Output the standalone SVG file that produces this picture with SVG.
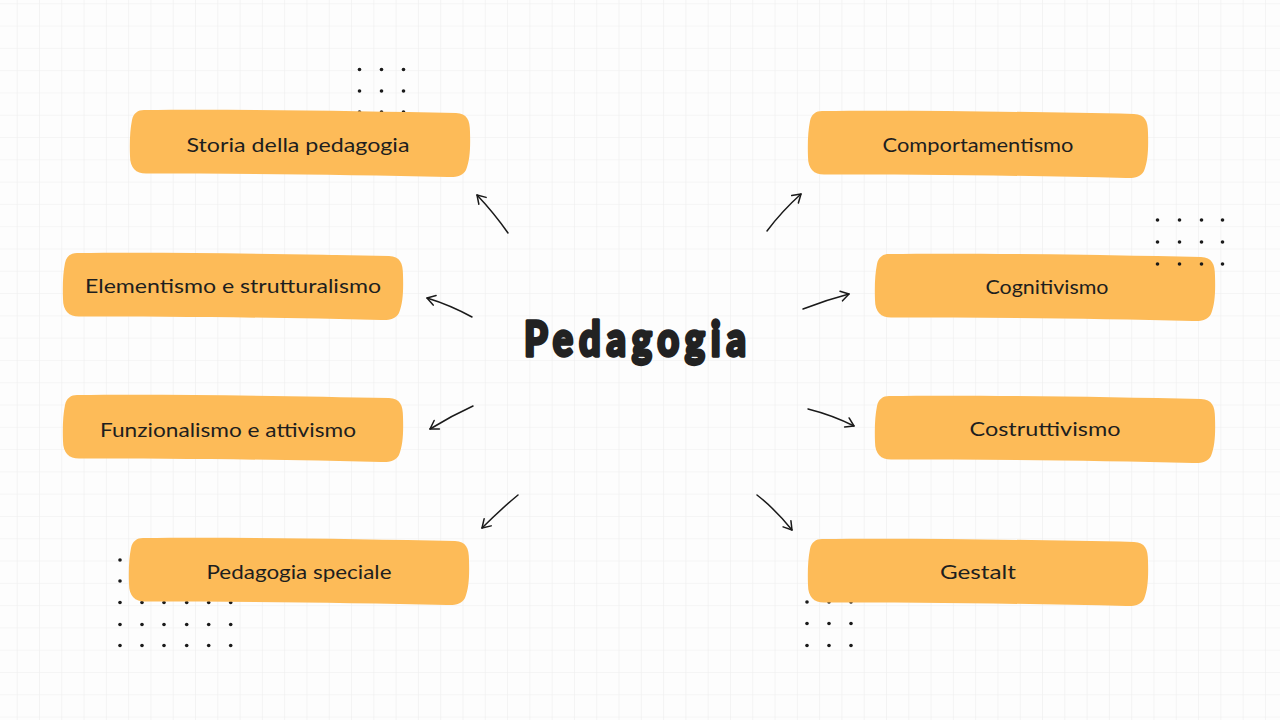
<svg xmlns="http://www.w3.org/2000/svg" xmlns:xlink="http://www.w3.org/1999/xlink" width="1280" height="720" viewBox="0 0 1280 720">
<style>
.box{fill:#fdbb58}
.lbl{font-family:Lato,"Open Sans","Liberation Sans",sans-serif;font-size:20px;fill:#1e1e1e;text-anchor:middle}
.title{font-family:Lato,"Open Sans","Liberation Sans",sans-serif;font-size:38px;font-weight:900;fill:#222;stroke:#222;stroke-width:2.6;stroke-linejoin:round;text-anchor:middle}
.arr{fill:none;stroke:#1a1a1a;stroke-width:1.5;stroke-linecap:round;marker-end:url(#ah)}
.dot{fill:#1a1a1a}
</style>
<defs>
<pattern id="grid" patternUnits="userSpaceOnUse" x="16.7" y="3.3" width="22.29" height="22.29">
<path d="M 0 0 L 0 22.29 M 0 0 L 22.29 0" fill="none" stroke="#eeeeee" stroke-width="1.2"/>
</pattern>
<marker id="ah" markerUnits="userSpaceOnUse" markerWidth="20" markerHeight="20" refX="0" refY="0" viewBox="-12 -10 16 20" orient="auto">
<path d="M -8 -5 L 0 0 L -8 5" fill="none" stroke="#1a1a1a" stroke-width="1.5" stroke-linecap="round" stroke-linejoin="round"/>
</marker>
<path id="blob" d="M 14 0 C 110 -1 230 1 326 3 C 337 3.5 340 10 340 22 C 340.5 38 340 50 336 60 C 333 66 326 67.5 318 67 C 220 64.5 110 63.5 16 63.5 C 6 63.5 0 58 0 46 C -0.5 32 0 20 2 10 C 3.5 3 8 0 14 0 Z"/>
<g id="d3">
<circle cx="0" cy="0" r="1.8"/><circle cx="22" cy="0" r="1.8"/><circle cx="44" cy="0" r="1.8"/>
</g>
</defs>
<rect width="1280" height="720" fill="#fdfdfd"/>
<rect width="1280" height="720" fill="url(#grid)"/>

<g id="dots-back" class="dot">
<use xlink:href="#d3" x="359.5" y="69.5"/>
<use xlink:href="#d3" x="359.5" y="91"/>
<use xlink:href="#d3" x="359.5" y="112"/>
<use xlink:href="#d3" x="120" y="560"/><use xlink:href="#d3" x="186.7" y="560"/>
<use xlink:href="#d3" x="120" y="581"/><use xlink:href="#d3" x="186.7" y="581"/>
<use xlink:href="#d3" x="120" y="602.5"/><use xlink:href="#d3" x="186.7" y="602.5"/>
<use xlink:href="#d3" x="120" y="624.5"/><use xlink:href="#d3" x="186.7" y="624.5"/>
<use xlink:href="#d3" x="120" y="645.5"/><use xlink:href="#d3" x="186.7" y="645.5"/>
<use xlink:href="#d3" x="807" y="602"/>
<use xlink:href="#d3" x="807" y="623.5"/>
<use xlink:href="#d3" x="807" y="645.5"/>
</g>

<g id="node-storia">
<use xlink:href="#blob" class="box" x="130" y="110"/>
<text class="lbl" x="298" y="152" textLength="223" lengthAdjust="spacingAndGlyphs">Storia della pedagogia</text>
</g>
<g id="node-elementismo">
<use xlink:href="#blob" class="box" x="63" y="253"/>
<text class="lbl" x="233" y="293" textLength="296" lengthAdjust="spacingAndGlyphs">Elementismo e strutturalismo</text>
</g>
<g id="node-funzionalismo">
<use xlink:href="#blob" class="box" x="63" y="395"/>
<text class="lbl" x="228" y="437" textLength="256" lengthAdjust="spacingAndGlyphs">Funzionalismo e attivismo</text>
</g>
<g id="node-speciale">
<use xlink:href="#blob" class="box" x="129" y="538"/>
<text class="lbl" x="299" y="579" textLength="185" lengthAdjust="spacingAndGlyphs">Pedagogia speciale</text>
</g>
<g id="node-comportamentismo">
<use xlink:href="#blob" class="box" x="808" y="111"/>
<text class="lbl" x="978" y="152" textLength="191" lengthAdjust="spacingAndGlyphs">Comportamentismo</text>
</g>
<g id="node-cognitivismo">
<use xlink:href="#blob" class="box" x="875" y="254"/>
<text class="lbl" x="1047" y="294" textLength="123" lengthAdjust="spacingAndGlyphs">Cognitivismo</text>
</g>
<g id="node-costruttivismo">
<use xlink:href="#blob" class="box" x="875" y="396"/>
<text class="lbl" x="1045" y="436" textLength="151" lengthAdjust="spacingAndGlyphs">Costruttivismo</text>
</g>
<g id="node-gestalt">
<use xlink:href="#blob" class="box" x="808" y="539"/>
<text class="lbl" x="978" y="579" textLength="76" lengthAdjust="spacingAndGlyphs">Gestalt</text>
</g>

<g id="dots-front" class="dot">
<use xlink:href="#d3" x="1157.5" y="220"/><circle cx="1222.5" cy="220" r="1.8"/>
<use xlink:href="#d3" x="1157.5" y="242"/><circle cx="1222.5" cy="242" r="1.8"/>
<use xlink:href="#d3" x="1157.5" y="264"/><circle cx="1222.5" cy="264" r="1.8"/>
</g>

<g id="node-pedagogia">
<text class="title" transform="translate(635 356) scale(1 1.25)" x="0" y="0" textLength="222" lengthAdjust="spacing">Pedagogia</text>
</g>

<g id="connectors">
<path class="arr" d="M 508 233 Q 494 213 477 195"/>
<path class="arr" d="M 472 317 Q 450 305 427 298"/>
<path class="arr" d="M 473 406 Q 451 416 430 429"/>
<path class="arr" d="M 518 495 Q 500 510 482 528"/>
<path class="arr" d="M 767 231 Q 782 211 801 194"/>
<path class="arr" d="M 803 309 Q 826 300 849 294"/>
<path class="arr" d="M 808 409 Q 832 415 854 426"/>
<path class="arr" d="M 757 495 Q 776 510 792 530"/>
</g>
</svg>
